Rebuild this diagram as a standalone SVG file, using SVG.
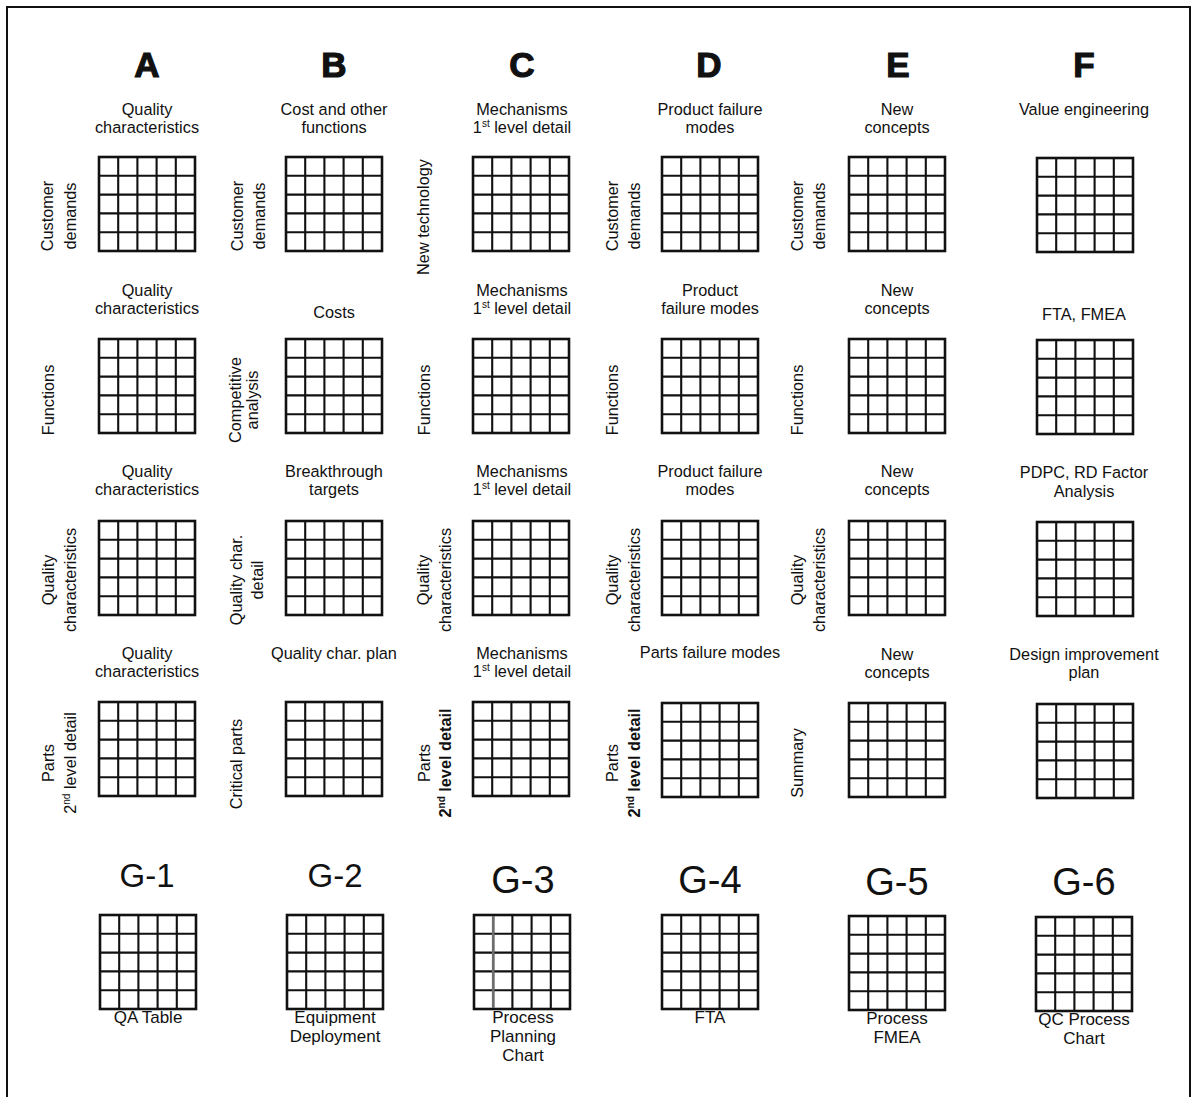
<svg xmlns="http://www.w3.org/2000/svg" xmlns:xlink="http://www.w3.org/1999/xlink" width="1199" height="1097" viewBox="0 0 1199 1097">
<style>
text{font-family:"Liberation Sans",Arial,Helvetica,sans-serif;fill:#111;text-anchor:middle}
.h{font-size:16.3px}
.L{font-size:35px;font-weight:bold;stroke:#111;stroke-width:1.2}
.g{font-size:33px}
.G{font-size:38px}
.b{font-size:17px}
.bold{font-weight:bold}
.sup{font-size:10px}
.frame{fill:none;stroke:#111;stroke-width:2}
</style>
<defs>
<g id="grid">
<rect x="0" y="0" width="96" height="94" fill="#fff" stroke="#111" stroke-width="2.6"/>
<path d="M19.2 0V94M38.4 0V94M57.6 0V94M76.8 0V94M0 18.8H96M0 37.6H96M0 56.4H96M0 75.2H96" fill="none" stroke="#111" stroke-width="2.1"/>
</g>
</defs>
<rect x="0" y="0" width="1199" height="1097" fill="#fff"/>
<rect class="frame" x="7" y="7" width="1183" height="1100"/>
<g id="connectors"/>

<!-- Column letters -->
<g id="letters">
<text class="L" x="147" y="77">A</text>
<text class="L" x="334" y="77">B</text>
<text class="L" x="522" y="77">C</text>
<text class="L" x="709" y="77">D</text>
<text class="L" x="898" y="77">E</text>
<text class="L" x="1084" y="77">F</text>
</g>

<!-- Row 1 -->
<g id="A1">
<text class="h" x="147" y="115">Quality</text><text class="h" x="147" y="133">characteristics</text>
<use xlink:href="#grid" href="#grid" x="99" y="157"/>
<text class="h" transform="translate(53,216) rotate(-90)">Customer</text>
<text class="h" transform="translate(76,216) rotate(-90)">demands</text>
</g>
<g id="B1">
<text class="h" x="334" y="115">Cost and other</text><text class="h" x="334" y="133">functions</text>
<use xlink:href="#grid" href="#grid" x="286" y="157"/>
<text class="h" transform="translate(243,216) rotate(-90)">Customer</text>
<text class="h" transform="translate(265,216) rotate(-90)">demands</text>
</g>
<g id="C1">
<text class="h" x="522" y="115">Mechanisms</text><text class="h" x="522" y="133">1<tspan class="sup" dy="-6">st</tspan><tspan dy="6"> level detail</tspan></text>
<use xlink:href="#grid" href="#grid" x="473" y="157"/>
<text class="h" transform="translate(429,217) rotate(-90)">New technology</text>
</g>
<g id="D1">
<text class="h" x="710" y="115">Product failure</text><text class="h" x="710" y="133">modes</text>
<use xlink:href="#grid" href="#grid" x="662" y="157"/>
<text class="h" transform="translate(618,216) rotate(-90)">Customer</text>
<text class="h" transform="translate(640,216) rotate(-90)">demands</text>
</g>
<g id="E1">
<text class="h" x="897" y="115">New</text><text class="h" x="897" y="133">concepts</text>
<use xlink:href="#grid" href="#grid" x="849" y="157"/>
<text class="h" transform="translate(803,216) rotate(-90)">Customer</text>
<text class="h" transform="translate(825,216) rotate(-90)">demands</text>
</g>
<g id="F1">
<text class="h" x="1084" y="115">Value engineering</text>
<use xlink:href="#grid" href="#grid" x="1037" y="158"/>
</g>

<!-- Row 2 -->
<g id="A2">
<text class="h" x="147" y="296">Quality</text><text class="h" x="147" y="314">characteristics</text>
<use xlink:href="#grid" href="#grid" x="99" y="339"/>
<text class="h" transform="translate(54,400) rotate(-90)">Functions</text>
</g>
<g id="B2">
<text class="h" x="334" y="318">Costs</text>
<use xlink:href="#grid" href="#grid" x="286" y="339"/>
<text class="h" transform="translate(241,400) rotate(-90)">Competitive</text>
<text class="h" transform="translate(258,400) rotate(-90)">analysis</text>
</g>
<g id="C2">
<text class="h" x="522" y="296">Mechanisms</text><text class="h" x="522" y="314">1<tspan class="sup" dy="-6">st</tspan><tspan dy="6"> level detail</tspan></text>
<use xlink:href="#grid" href="#grid" x="473" y="339"/>
<text class="h" transform="translate(430,400) rotate(-90)">Functions</text>
</g>
<g id="D2">
<text class="h" x="710" y="296">Product</text><text class="h" x="710" y="314">failure modes</text>
<use xlink:href="#grid" href="#grid" x="662" y="339"/>
<text class="h" transform="translate(618,400) rotate(-90)">Functions</text>
</g>
<g id="E2">
<text class="h" x="897" y="296">New</text><text class="h" x="897" y="314">concepts</text>
<use xlink:href="#grid" href="#grid" x="849" y="339"/>
<text class="h" transform="translate(803,400) rotate(-90)">Functions</text>
</g>
<g id="F2">
<text class="h" x="1084" y="320">FTA, FMEA</text>
<use xlink:href="#grid" href="#grid" x="1037" y="340"/>
</g>

<!-- Row 3 -->
<g id="A3">
<text class="h" x="147" y="477">Quality</text><text class="h" x="147" y="495">characteristics</text>
<use xlink:href="#grid" href="#grid" x="99" y="521"/>
<text class="h" transform="translate(54,580) rotate(-90)">Quality</text>
<text class="h" transform="translate(76,580) rotate(-90)">characteristics</text>
</g>
<g id="B3">
<text class="h" x="334" y="477">Breakthrough</text><text class="h" x="334" y="495">targets</text>
<use xlink:href="#grid" href="#grid" x="286" y="521"/>
<text class="h" transform="translate(242,580) rotate(-90)">Quality char.</text>
<text class="h" transform="translate(263,580) rotate(-90)">detail</text>
</g>
<g id="C3">
<text class="h" x="522" y="477">Mechanisms</text><text class="h" x="522" y="495">1<tspan class="sup" dy="-6">st</tspan><tspan dy="6"> level detail</tspan></text>
<use xlink:href="#grid" href="#grid" x="473" y="521"/>
<text class="h" transform="translate(429,580) rotate(-90)">Quality</text>
<text class="h" transform="translate(451,580) rotate(-90)">characteristics</text>
</g>
<g id="D3">
<text class="h" x="710" y="477">Product failure</text><text class="h" x="710" y="495">modes</text>
<use xlink:href="#grid" href="#grid" x="662" y="521"/>
<text class="h" transform="translate(618,580) rotate(-90)">Quality</text>
<text class="h" transform="translate(640,580) rotate(-90)">characteristics</text>
</g>
<g id="E3">
<text class="h" x="897" y="477">New</text><text class="h" x="897" y="495">concepts</text>
<use xlink:href="#grid" href="#grid" x="849" y="521"/>
<text class="h" transform="translate(803,580) rotate(-90)">Quality</text>
<text class="h" transform="translate(825,580) rotate(-90)">characteristics</text>
</g>
<g id="F3">
<text class="h" x="1084" y="478">PDPC, RD Factor</text><text class="h" x="1084" y="497">Analysis</text>
<use xlink:href="#grid" href="#grid" x="1037" y="522"/>
</g>

<!-- Row 4 -->
<g id="A4">
<text class="h" x="147" y="659">Quality</text><text class="h" x="147" y="677">characteristics</text>
<use xlink:href="#grid" href="#grid" x="99" y="702"/>
<text class="h" transform="translate(54,763) rotate(-90)">Parts</text>
<text class="h" transform="translate(76,763) rotate(-90)">2<tspan class="sup" dy="-6">nd</tspan><tspan dy="6"> level detail</tspan></text>
</g>
<g id="B4">
<text class="h" x="334" y="659">Quality char. plan</text>
<use xlink:href="#grid" href="#grid" x="286" y="702"/>
<text class="h" transform="translate(242,764) rotate(-90)">Critical parts</text>
</g>
<g id="C4">
<text class="h" x="522" y="659">Mechanisms</text><text class="h" x="522" y="677">1<tspan class="sup" dy="-6">st</tspan><tspan dy="6"> level detail</tspan></text>
<use xlink:href="#grid" href="#grid" x="473" y="702"/>
<text class="h" transform="translate(430,763) rotate(-90)">Parts</text>
<text class="h bold" transform="translate(451,763) rotate(-90)">2<tspan class="sup" dy="-6">nd</tspan><tspan dy="6"> level detail</tspan></text>
</g>
<g id="D4">
<text class="h" x="710" y="658">Parts failure modes</text>
<use xlink:href="#grid" href="#grid" x="662" y="703"/>
<text class="h" transform="translate(618,763) rotate(-90)">Parts</text>
<text class="h bold" transform="translate(640,763) rotate(-90)">2<tspan class="sup" dy="-6">nd</tspan><tspan dy="6"> level detail</tspan></text>
</g>
<g id="E4">
<text class="h" x="897" y="660">New</text><text class="h" x="897" y="678">concepts</text>
<use xlink:href="#grid" href="#grid" x="849" y="703"/>
<text class="h" transform="translate(803,763) rotate(-90)">Summary</text>
</g>
<g id="F4">
<text class="h" x="1084" y="660">Design improvement</text><text class="h" x="1084" y="678">plan</text>
<use xlink:href="#grid" href="#grid" x="1037" y="704"/>
</g>

<!-- G row -->
<g id="G1">
<text class="g" x="147" y="887">G-1</text>
<use xlink:href="#grid" href="#grid" x="100" y="915"/>
<text class="b" x="148" y="1023">QA Table</text>
</g>
<g id="G2">
<text class="g" x="335" y="887">G-2</text>
<use xlink:href="#grid" href="#grid" x="287" y="915"/>
<text class="b" x="335" y="1023">Equipment</text><text class="b" x="335" y="1042">Deployment</text>
</g>
<g id="G3">
<text class="G" x="523" y="893">G-3</text>
<use xlink:href="#grid" href="#grid" x="474" y="915"/>
<line x1="493.2" y1="916" x2="493.2" y2="1008" stroke="#6e6e6e" stroke-width="2.6"/>
<text class="b" x="523" y="1023">Process</text><text class="b" x="523" y="1042">Planning</text><text class="b" x="523" y="1061">Chart</text>
</g>
<g id="G4">
<text class="G" x="710" y="893">G-4</text>
<use xlink:href="#grid" href="#grid" x="662" y="915"/>
<text class="b" x="710" y="1023">FTA</text>
</g>
<g id="G5">
<text class="G" x="897" y="895">G-5</text>
<use xlink:href="#grid" href="#grid" x="849" y="916"/>
<text class="b" x="897" y="1024">Process</text><text class="b" x="897" y="1043">FMEA</text>
</g>
<g id="G6">
<text class="G" x="1084" y="895">G-6</text>
<use xlink:href="#grid" href="#grid" x="1036" y="917"/>
<text class="b" x="1084" y="1025">QC Process</text><text class="b" x="1084" y="1044">Chart</text>
</g>
</svg>
